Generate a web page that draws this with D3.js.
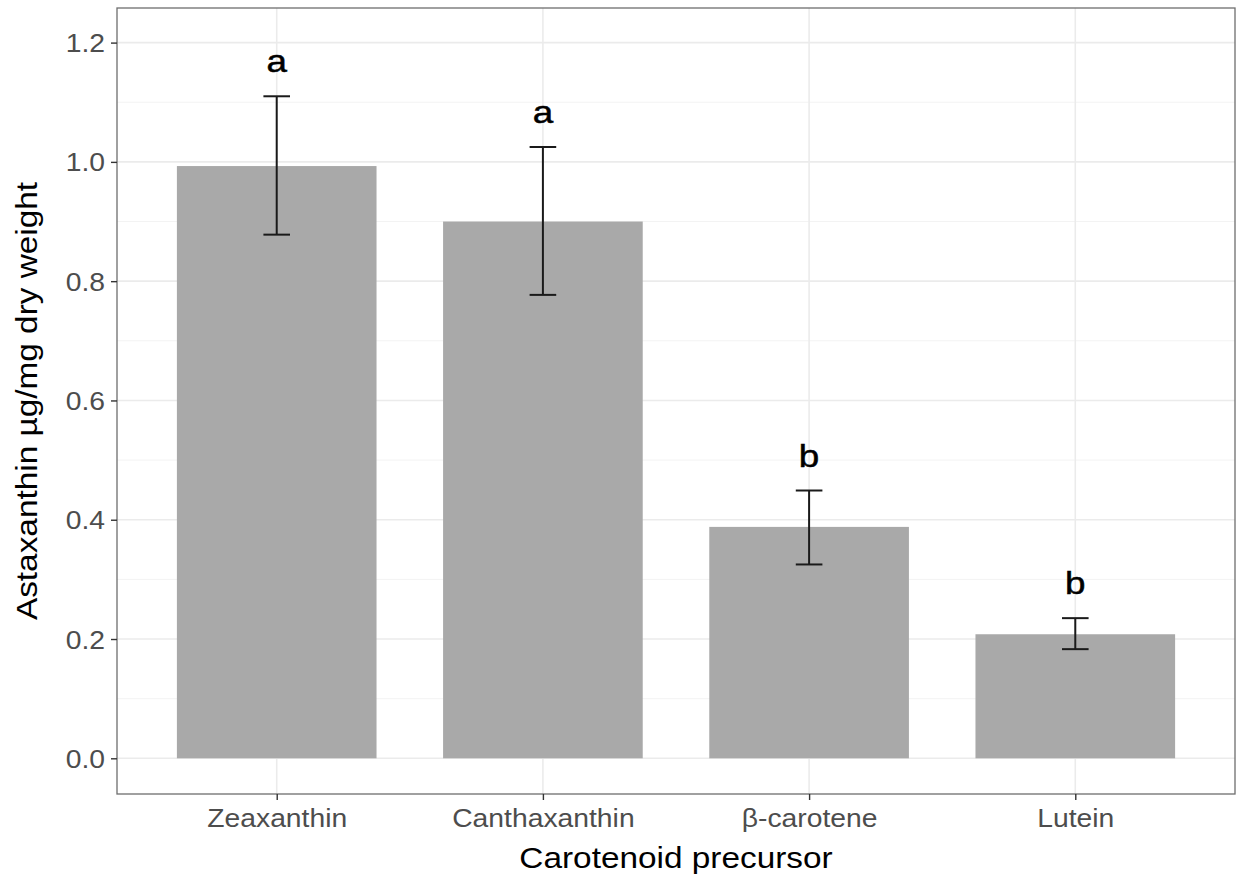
<!DOCTYPE html>
<html>
<head>
<meta charset="utf-8">
<script src="https://cdn.jsdelivr.net/npm/d3@7"></script>
<style>
  html, body { margin: 0; padding: 0; background: #ffffff; }
  svg { display: block; }
  text { font-family: "Liberation Sans", Arial, sans-serif; }
</style>
</head>
<body>
<svg id="chart" width="1239" height="879"></svg>
<script>
// Astaxanthin yield per carotenoid precursor (mean with error bars)
const categories = ["Zeaxanthin", "Canthaxanthin", "\u03b2-carotene", "Lutein"];
const means  = [0.993, 0.900, 0.388, 0.208];
const lower  = [0.878, 0.777, 0.325, 0.183];
const upper  = [1.110, 1.025, 0.449, 0.235];
const groups = ["a", "a", "b", "b"];
const yTicks = [0.0, 0.2, 0.4, 0.6, 0.8, 1.0, 1.2];
const yMinor = [0.1, 0.3, 0.5, 0.7, 0.9, 1.1];

const svg = d3.select("#chart");
const panel = { left: 117, right: 1235, top: 8, bottom: 794 };
const tickStretch = 1.11;  // horizontal glyph widening for tick labels
const titleStretch = 1.15; // and for the axis titles / letters

const x = d3.scalePoint()
  .domain(categories)
  .range([panel.left, panel.right])
  .padding(0.6);
const step = x.step();

const y = d3.scaleLinear()
  .domain([0, 1.2])
  .range([758.3, 42.6]);

// panel background
svg.append("rect")
  .attr("x", panel.left).attr("y", panel.top)
  .attr("width", panel.right - panel.left)
  .attr("height", panel.bottom - panel.top)
  .attr("fill", "#ffffff");

// grid lines
const grid = svg.append("g");
grid.selectAll("line.minor").data(yMinor).enter().append("line")
  .attr("x1", panel.left).attr("x2", panel.right)
  .attr("y1", d => y(d)).attr("y2", d => y(d))
  .attr("stroke", "#f3f3f3").attr("stroke-width", 1);
grid.selectAll("line.major").data(yTicks).enter().append("line")
  .attr("x1", panel.left).attr("x2", panel.right)
  .attr("y1", d => y(d)).attr("y2", d => y(d))
  .attr("stroke", "#ebebeb").attr("stroke-width", 1.6);
grid.selectAll("line.vert").data(categories).enter().append("line")
  .attr("x1", d => x(d)).attr("x2", d => x(d))
  .attr("y1", panel.top).attr("y2", panel.bottom)
  .attr("stroke", "#ebebeb").attr("stroke-width", 1.6);

// bars
const barW = step * 0.75;
svg.append("g").selectAll("rect").data(categories).enter().append("rect")
  .attr("x", d => x(d) - barW / 2)
  .attr("width", barW)
  .attr("y", (d, i) => y(means[i]))
  .attr("height", (d, i) => y(0) - y(means[i]))
  .attr("fill", "#a9a9a9");

// error bars
const capW = step * 0.1;
const eb = svg.append("g").attr("stroke", "#1a1a1a").attr("stroke-width", 2);
categories.forEach((c, i) => {
  const cx = x(c);
  eb.append("line").attr("x1", cx).attr("x2", cx)
    .attr("y1", y(lower[i])).attr("y2", y(upper[i]));
  eb.append("line").attr("x1", cx - capW / 2).attr("x2", cx + capW / 2)
    .attr("y1", y(upper[i])).attr("y2", y(upper[i]));
  eb.append("line").attr("x1", cx - capW / 2).attr("x2", cx + capW / 2)
    .attr("y1", y(lower[i])).attr("y2", y(lower[i]));
});

// significance letters above the error bars
svg.append("g").selectAll("text").data(categories).enter().append("text")
  .attr("transform", (d, i) => `translate(${x(d)},${y(upper[i] + 0.04)}) scale(${titleStretch},1)`)
  .attr("text-anchor", "middle")
  .attr("font-size", 32)
  .attr("fill", "#000000")
  .attr("stroke", "#000000").attr("stroke-width", 0.5)
  .text((d, i) => groups[i]);

// panel border
svg.append("rect")
  .attr("x", panel.left).attr("y", panel.top)
  .attr("width", panel.right - panel.left)
  .attr("height", panel.bottom - panel.top)
  .attr("fill", "none")
  .attr("stroke", "#6e6e6e").attr("stroke-width", 1.3);

// y axis
const yAxis = svg.append("g")
  .attr("transform", `translate(${panel.left},0)`)
  .call(d3.axisLeft(y).tickValues(yTicks).tickFormat(d3.format(".1f")).tickSize(6).tickPadding(5));
yAxis.select(".domain").remove();
yAxis.selectAll(".tick line").attr("stroke", "#333333").attr("stroke-width", 1.4);
yAxis.selectAll(".tick text")
  .attr("font-size", 25.5)
  .attr("fill", "#4d4d4d")
  .attr("font-family", "Liberation Sans, Arial, sans-serif")
  .attr("x", null).attr("dy", null)
  .attr("transform", `translate(-12,9) scale(${tickStretch},1)`);

// x axis
const xAxis = svg.append("g")
  .attr("transform", `translate(0,${panel.bottom})`)
  .call(d3.axisBottom(x).tickSize(6).tickPadding(5));
xAxis.select(".domain").remove();
xAxis.selectAll(".tick line").attr("stroke", "#333333").attr("stroke-width", 1.4);
xAxis.selectAll(".tick text")
  .attr("font-size", 25.5)
  .attr("fill", "#4d4d4d")
  .attr("font-family", "Liberation Sans, Arial, sans-serif")
  .attr("y", null).attr("dy", null)
  .attr("transform", `translate(0,32.5) scale(${tickStretch},1)`);

// axis titles
svg.append("text")
  .attr("transform", `translate(${(panel.left + panel.right) / 2},868) scale(${titleStretch},1)`)
  .attr("text-anchor", "middle")
  .attr("font-size", 29)
  .attr("fill", "#000000")
  .text("Carotenoid precursor");

svg.append("text")
  .attr("transform", `translate(37,${(panel.top + panel.bottom) / 2}) rotate(-90) scale(${titleStretch},1)`)
  .attr("text-anchor", "middle")
  .attr("font-size", 29)
  .attr("fill", "#000000")
  .text("Astaxanthin \u00b5g/mg dry weight");
</script>
</body>
</html>
